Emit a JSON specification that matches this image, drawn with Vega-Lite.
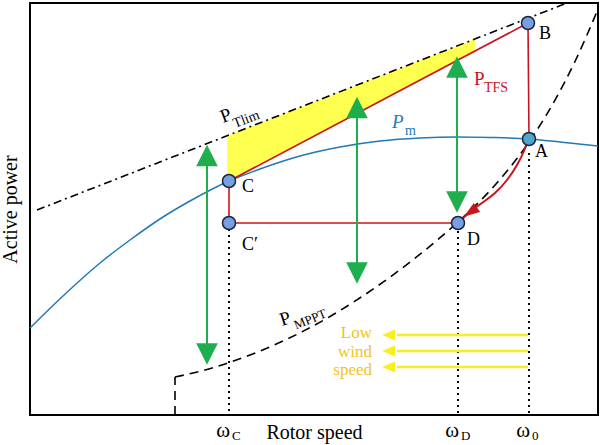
{
  "$schema": "https://vega.github.io/schema/vega-lite/v6.json",
  "width": 568,
  "height": 412,
  "autosize": {"type": "none"},
  "padding": {"left": 30, "top": 3, "right": 2, "bottom": 30},
  "background": "white",
  "config": {
    "view": {"stroke": "black", "strokeWidth": 2},
    "font": "Liberation Serif",
    "axis": {"labels": false, "ticks": false, "domain": false, "grid": false, "titleFont": "Liberation Serif", "titleFontSize": 20, "titleFontWeight": "normal", "titleColor": "black"}
  },
  "datasets": {
    "hatch": [{"x": 197, "y": 279, "y2": 232}, {"x": 445, "y": 376, "y2": 364}],
    "pm": [{"x": 0, "y": 87}, {"x": 33, "y": 119}, {"x": 70, "y": 152}, {"x": 100, "y": 175}, {"x": 133, "y": 198}, {"x": 160, "y": 214}, {"x": 199, "y": 234}, {"x": 230, "y": 246}, {"x": 270, "y": 259}, {"x": 310, "y": 268}, {"x": 350, "y": 274}, {"x": 390, "y": 277}, {"x": 427, "y": 278}, {"x": 460, "y": 277.5}, {"x": 499, "y": 276}, {"x": 530, "y": 273}, {"x": 568, "y": 269}],
    "tlim": [{"x": 7, "y": 205}, {"x": 537, "y": 412}],
    "mppt": [{"seg": "v", "x": 145, "y": 0}, {"seg": "v", "x": 145, "y": 38}, {"seg": "c", "x": 145, "y": 38}, {"seg": "c", "x": 175, "y": 45}, {"seg": "c", "x": 200, "y": 52.7}, {"seg": "c", "x": 235, "y": 66}, {"seg": "c", "x": 270, "y": 82.2}, {"seg": "c", "x": 300, "y": 98.5}, {"seg": "c", "x": 317, "y": 108.8}, {"seg": "c", "x": 353, "y": 132.8}, {"seg": "c", "x": 390, "y": 160.8}, {"seg": "c", "x": 428, "y": 193}, {"seg": "c", "x": 460, "y": 224.4}, {"seg": "c", "x": 485, "y": 253.9}, {"seg": "c", "x": 503, "y": 279}, {"seg": "c", "x": 525, "y": 314.9}, {"seg": "c", "x": 545, "y": 353.5}, {"seg": "c", "x": 568, "y": 405.9}],
    "red": [{"seg": "CB", "x": 199, "y": 234}, {"seg": "CB", "x": 498, "y": 392}, {"seg": "BA", "x": 498, "y": 392}, {"seg": "BA", "x": 499, "y": 276}, {"seg": "CC", "x": 199, "y": 234}, {"seg": "CC", "x": 199, "y": 192}, {"seg": "CD", "x": 199, "y": 192}, {"seg": "CD", "x": 428, "y": 192}],
    "redcurve": [{"x": 428, "y": 192}, {"x": 440, "y": 203}, {"x": 452, "y": 212}, {"x": 465, "y": 222}, {"x": 477, "y": 235}, {"x": 487, "y": 250}, {"x": 494, "y": 264}, {"x": 498, "y": 275}],
    "redhead": [{"x": 440.5, "y": 203}],
    "dotted": [{"seg": "c", "x": 199, "y": 186}, {"seg": "c", "x": 199, "y": 0}, {"seg": "d", "x": 428, "y": 184}, {"seg": "d", "x": 428, "y": 0}, {"seg": "o", "x": 499, "y": 262}, {"seg": "o", "x": 499, "y": 0}],
    "gshaft": [{"seg": "a1", "x": 177, "y": 266}, {"seg": "a1", "x": 177, "y": 54}, {"seg": "a2", "x": 327, "y": 314}, {"seg": "a2", "x": 327, "y": 136}, {"seg": "a3", "x": 427, "y": 354}, {"seg": "a3", "x": 427, "y": 207}],
    "ghead": [{"x": 177, "y": 259.5, "dir": "up"}, {"x": 177, "y": 61, "dir": "down"}, {"x": 327, "y": 307.5, "dir": "up"}, {"x": 327, "y": 142, "dir": "down"}, {"x": 427, "y": 348, "dir": "up"}, {"x": 427, "y": 213, "dir": "down"}],
    "ylines": [{"seg": "1", "x": 367, "y": 80}, {"seg": "1", "x": 498, "y": 80}, {"seg": "2", "x": 367, "y": 64}, {"seg": "2", "x": 498, "y": 64}, {"seg": "3", "x": 367, "y": 48}, {"seg": "3", "x": 498, "y": 48}],
    "yheads": [{"x": 358.5, "y": 80}, {"x": 358.5, "y": 64}, {"x": 358.5, "y": 48}],
    "pts": [{"name": "C", "x": 199, "y": 234}, {"name": "C′", "x": 199, "y": 192}, {"name": "D", "x": 428, "y": 192}, {"name": "B", "x": 498, "y": 392}, {"name": "A", "x": 499, "y": 276}],
    "ptlabels": [{"t": "B", "x": 509, "y": 381}, {"t": "A", "x": 505, "y": 263}, {"t": "C", "x": 212, "y": 228}, {"t": "C′", "x": 212, "y": 170}, {"t": "D", "x": 437, "y": 175}],
    "lowwind": [{"t": "Low", "x": 342, "y": 77}, {"t": "wind", "x": 342, "y": 58.5}, {"t": "speed", "x": 342, "y": 40}],
    "omega": [{"t": "ω", "x": 200, "y": -22}, {"t": "ω", "x": 429, "y": -22}, {"t": "ω", "x": 500, "y": -22}],
    "omegasub": [{"t": "C", "x": 202, "y": -25}, {"t": "D", "x": 431, "y": -25}, {"t": "0", "x": 502, "y": -25}]
  },
  "encoding": {
    "x": {"field": "x", "type": "quantitative", "scale": {"domain": [0, 568], "nice": false, "zero": false}, "axis": {"title": "Rotor speed", "titlePadding": 7}},
    "y": {"field": "y", "type": "quantitative", "scale": {"domain": [0, 412], "nice": false, "zero": false}, "axis": {"title": "Active power", "titlePadding": 10}}
  },
  "layer": [
    {"data": {"name": "hatch"}, "mark": {"type": "area", "color": "#ffff50", "opacity": 1}, "encoding": {"y2": {"field": "y2"}}},
    {"data": {"name": "pm"}, "mark": {"type": "line", "color": "#2279b6", "strokeWidth": 1.5, "interpolate": "monotone"}, "encoding": {}},
    {"data": {"name": "tlim"}, "mark": {"type": "line", "color": "black", "strokeWidth": 1.6, "strokeDash": [8, 4, 2, 4]}, "encoding": {}},
    {"data": {"name": "mppt"}, "mark": {"type": "line", "color": "black", "strokeWidth": 1.6, "strokeDash": [9, 6], "interpolate": "monotone", "clip": true}, "encoding": {"detail": {"field": "seg"}}},
    {"data": {"name": "red"}, "mark": {"type": "line", "color": "#c8141c", "strokeWidth": 1.6}, "encoding": {"detail": {"field": "seg"}}},
    {"data": {"name": "redcurve"}, "mark": {"type": "line", "color": "#c8141c", "strokeWidth": 2, "interpolate": "monotone"}, "encoding": {}},
    {"data": {"name": "redhead"}, "mark": {"type": "point", "shape": "M1,0L-1,-0.7L-1,0.7Z", "filled": true, "color": "#c8141c", "opacity": 1, "size": 250, "angle": 145}, "encoding": {}},
    {"data": {"name": "dotted"}, "mark": {"type": "line", "color": "black", "strokeWidth": 2, "strokeDash": [2, 4]}, "encoding": {"detail": {"field": "seg"}}},
    {"data": {"name": "gshaft"}, "mark": {"type": "line", "color": "#1fae4e", "strokeWidth": 2}, "encoding": {"detail": {"field": "seg"}}},
    {"data": {"name": "ghead"}, "mark": {"type": "point", "filled": true, "color": "#1fae4e", "opacity": 1, "size": 466}, "encoding": {"shape": {"field": "dir", "type": "nominal", "scale": {"domain": ["up", "down"], "range": ["M0,-1L1,1L-1,1Z", "M0,1L1,-1L-1,-1Z"]}, "legend": null}}},
    {"data": {"name": "ylines"}, "mark": {"type": "line", "color": "#f7ef1e", "strokeWidth": 2.5}, "encoding": {"detail": {"field": "seg"}}},
    {"data": {"name": "yheads"}, "mark": {"type": "point", "shape": "M-1,0L1,-0.85L1,0.85Z", "filled": true, "color": "#f7ef1e", "opacity": 1, "size": 169}, "encoding": {}},
    {"data": {"name": "pts"}, "mark": {"type": "point", "shape": "circle", "filled": true, "opacity": 1, "size": 170, "stroke": "#1b2440", "strokeWidth": 1.5}, "encoding": {"fill": {"field": "name", "type": "nominal", "scale": {"domain": ["A", "B", "C", "C′", "D"], "range": ["#4fa5c6", "#76a0e2", "#76a0e2", "#76a0e2", "#76a0e2"]}, "legend": null}}},
    {"data": {"name": "ptlabels"}, "mark": {"type": "text", "align": "left", "baseline": "middle", "fontSize": 18, "font": "Liberation Serif", "color": "black"}, "encoding": {"text": {"field": "t"}}},
    {"data": {"values": [{"t": "P", "x": 444, "y": 330}]}, "mark": {"type": "text", "align": "left", "baseline": "alphabetic", "fontSize": 19, "font": "Liberation Serif", "color": "#c8141c"}, "encoding": {"text": {"field": "t"}}},
    {"data": {"values": [{"t": "TFS", "x": 454, "y": 323}]}, "mark": {"type": "text", "align": "left", "baseline": "alphabetic", "fontSize": 14, "font": "Liberation Serif", "color": "#c8141c"}, "encoding": {"text": {"field": "t"}}},
    {"data": {"values": [{"t": "P", "x": 362, "y": 287}]}, "mark": {"type": "text", "align": "left", "baseline": "alphabetic", "fontSize": 19, "fontStyle": "italic", "font": "Liberation Serif", "color": "#2279b6"}, "encoding": {"text": {"field": "t"}}},
    {"data": {"values": [{"t": "m", "x": 375, "y": 280}]}, "mark": {"type": "text", "align": "left", "baseline": "alphabetic", "fontSize": 14, "font": "Liberation Serif", "color": "#2279b6"}, "encoding": {"text": {"field": "t"}}},
    {"data": {"values": [{"t": "P", "x": 193, "y": 292}]}, "mark": {"type": "text", "align": "left", "baseline": "alphabetic", "fontSize": 19, "font": "Liberation Serif", "color": "black", "angle": 339}, "encoding": {"text": {"field": "t"}}},
    {"data": {"values": [{"t": "Tlim", "x": 205, "y": 287}]}, "mark": {"type": "text", "align": "left", "baseline": "alphabetic", "fontSize": 14, "font": "Liberation Serif", "color": "black", "angle": 339}, "encoding": {"text": {"field": "t"}}},
    {"data": {"values": [{"t": "P", "x": 252, "y": 89}]}, "mark": {"type": "text", "align": "left", "baseline": "alphabetic", "fontSize": 19, "font": "Liberation Serif", "color": "black", "angle": 342}, "encoding": {"text": {"field": "t"}}},
    {"data": {"values": [{"t": "MPPT", "x": 266, "y": 85.5}]}, "mark": {"type": "text", "align": "left", "baseline": "alphabetic", "fontSize": 13, "font": "Liberation Serif", "color": "black", "angle": 338}, "encoding": {"text": {"field": "t"}}},
    {"data": {"name": "lowwind"}, "mark": {"type": "text", "align": "right", "baseline": "alphabetic", "fontSize": 17, "font": "Liberation Serif", "color": "#f4c21a"}, "encoding": {"text": {"field": "t"}}},
    {"data": {"name": "omega"}, "mark": {"type": "text", "align": "right", "baseline": "alphabetic", "fontSize": 21, "font": "Liberation Serif", "color": "black"}, "encoding": {"text": {"field": "t"}}},
    {"data": {"name": "omegasub"}, "mark": {"type": "text", "align": "left", "baseline": "alphabetic", "fontSize": 13, "font": "Liberation Serif", "color": "black"}, "encoding": {"text": {"field": "t"}}}
  ]
}
